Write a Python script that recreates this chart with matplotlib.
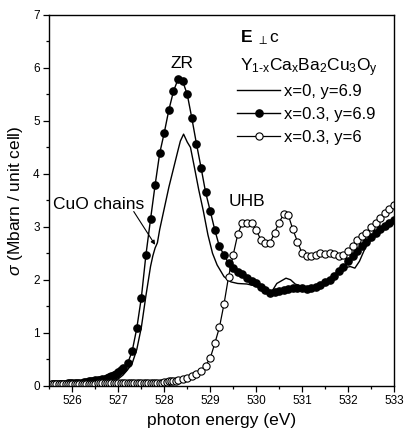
import matplotlib
matplotlib.use("Agg")
import matplotlib.pyplot as plt

plt.rcParams['font.family'] = ['Liberation Sans', 'DejaVu Sans']
plt.rcParams['mathtext.fontset'] = 'custom'
plt.rcParams['mathtext.rm'] = 'Liberation Sans'
plt.rcParams['mathtext.it'] = 'Liberation Sans:italic'
plt.rcParams['mathtext.bf'] = 'Liberation Sans:bold'
plt.rcParams['mathtext.default'] = 'regular'

# x=0, y=6.9 (solid line)
e_x0 = [525.55, 526.0, 526.5, 526.8, 527.0, 527.1, 527.2, 527.3, 527.4, 527.5, 527.6, 527.7,
        527.75, 527.8, 527.85, 527.9, 528.0, 528.1, 528.2, 528.3, 528.35, 528.42, 528.5, 528.57,
        528.65, 528.75, 528.85, 528.95, 529.05, 529.15, 529.3, 529.45, 529.6, 529.8, 530.0,
        530.2, 530.35, 530.45, 530.55, 530.65, 530.75, 530.85, 531.0, 531.2, 531.4, 531.6,
        531.8, 531.95, 532.05, 532.15, 532.25, 532.4, 532.6, 532.8, 533.0]
s_x0 = [0.03, 0.03, 0.04, 0.06, 0.13, 0.2, 0.3, 0.42, 0.68, 1.1, 1.7, 2.25,
        2.45, 2.6, 2.7, 2.95, 3.35, 3.75, 4.1, 4.45, 4.62, 4.75, 4.6, 4.5,
        4.15, 3.7, 3.3, 2.85, 2.5, 2.28, 2.06, 1.96, 1.93, 1.92, 1.88,
        1.81, 1.79, 1.93, 1.98, 2.03, 2.0, 1.92, 1.87, 1.87, 1.92, 2.02,
        2.17, 2.23, 2.25, 2.22, 2.35, 2.65, 2.85, 2.98, 3.1]

# x=0.3, y=6.9 (filled circles)
e_x03 = [525.55, 525.6, 525.65, 525.7, 525.75, 525.8, 525.85, 525.9, 525.95, 526.0,
         526.05, 526.1, 526.15, 526.2, 526.25, 526.3, 526.35, 526.4, 526.45, 526.5,
         526.55, 526.6, 526.65, 526.7, 526.75, 526.8, 526.85, 526.9, 526.95, 527.0, 527.05,
         527.1, 527.2, 527.3, 527.4, 527.5, 527.6, 527.7, 527.8, 527.9, 528.0,
         528.1, 528.2, 528.3, 528.4, 528.5, 528.6, 528.7, 528.8, 528.9, 529.0,
         529.1, 529.2, 529.3, 529.4, 529.5, 529.6, 529.7, 529.8, 529.9, 530.0,
         530.1, 530.2, 530.3, 530.4, 530.5, 530.6, 530.7, 530.8, 530.9, 531.0,
         531.1, 531.2, 531.3, 531.4, 531.5, 531.6, 531.7, 531.8, 531.9, 532.0,
         532.1, 532.2, 532.3, 532.4, 532.5, 532.6, 532.7, 532.8, 532.9, 533.0]
s_x03 = [0.04, 0.04, 0.04, 0.04, 0.04, 0.04, 0.04, 0.05, 0.05, 0.05,
         0.05, 0.05, 0.06, 0.06, 0.07, 0.07, 0.08, 0.08, 0.09, 0.10,
         0.10, 0.11, 0.12, 0.13, 0.14, 0.16, 0.18, 0.20, 0.22, 0.25, 0.29,
         0.33, 0.42, 0.65, 1.08, 1.66, 2.47, 3.14, 3.79, 4.39, 4.78,
         5.21, 5.56, 5.79, 5.75, 5.5, 5.05, 4.57, 4.12, 3.65, 3.3,
         2.94, 2.63, 2.47, 2.31, 2.22, 2.15, 2.1, 2.04, 1.98, 1.93,
         1.86, 1.8, 1.75, 1.77, 1.78, 1.8, 1.83, 1.85, 1.84, 1.84,
         1.83, 1.84, 1.87, 1.9, 1.95, 2.0, 2.08, 2.17, 2.25, 2.35,
         2.45, 2.55, 2.63, 2.72, 2.8, 2.88, 2.95, 3.02, 3.08, 3.13]

# x=0.3, y=6 (open circles)
e_y6 = [525.55, 525.6, 525.65, 525.7, 525.75, 525.8, 525.85, 525.9, 525.95, 526.0,
        526.05, 526.1, 526.15, 526.2, 526.25, 526.3, 526.35, 526.4, 526.45, 526.5,
        526.55, 526.6, 526.65, 526.7, 526.75, 526.8, 526.85, 526.9, 526.95, 527.0,
        527.05, 527.1, 527.15, 527.2, 527.25, 527.3, 527.35, 527.4, 527.45, 527.5,
        527.55, 527.6, 527.65, 527.7, 527.75, 527.8, 527.85, 527.9,
        527.95, 528.0, 528.05, 528.1, 528.15, 528.2, 528.25,
        528.3, 528.4, 528.5, 528.6, 528.7, 528.8, 528.9, 529.0,
        529.1, 529.2, 529.3, 529.4, 529.5, 529.6, 529.7, 529.8, 529.9, 530.0,
        530.1, 530.2, 530.3, 530.4, 530.5, 530.6, 530.7, 530.8, 530.9, 531.0,
        531.1, 531.2, 531.3, 531.4, 531.5, 531.6, 531.7, 531.8, 531.9, 532.0,
        532.1, 532.2, 532.3, 532.4, 532.5, 532.6, 532.7, 532.8, 532.9, 533.0]
s_y6 = [0.04, 0.04, 0.04, 0.04, 0.04, 0.04, 0.04, 0.04, 0.04, 0.04,
        0.04, 0.04, 0.04, 0.04, 0.04, 0.04, 0.04, 0.04, 0.04, 0.04,
        0.05, 0.05, 0.05, 0.05, 0.05, 0.05, 0.05, 0.05, 0.05, 0.05,
        0.05, 0.05, 0.05, 0.05, 0.05, 0.05, 0.05, 0.05, 0.05, 0.05,
        0.06, 0.06, 0.06, 0.06, 0.06, 0.06, 0.06, 0.06,
        0.06, 0.07, 0.07, 0.08, 0.08, 0.09, 0.09,
        0.1, 0.12, 0.15, 0.18, 0.22, 0.28, 0.38, 0.52,
        0.8, 1.1, 1.54, 2.06, 2.47, 2.86, 3.08, 3.08, 3.08, 2.94,
        2.76, 2.69, 2.69, 2.89, 3.08, 3.24, 3.22, 2.95, 2.72, 2.5,
        2.45, 2.44, 2.47, 2.5, 2.48, 2.51, 2.49, 2.45, 2.47, 2.55,
        2.63, 2.75, 2.83, 2.89, 3.0, 3.08, 3.17, 3.27, 3.34, 3.42]

labels = ["x=0, y=6.9", "x=0.3, y=6.9", "x=0.3, y=6"]
x_ticks = [526, 527, 528, 529, 530, 531, 532, 533]
y_ticks = [0, 1, 2, 3, 4, 5, 6, 7]

fig = plt.figure(figsize=(4.04, 4.36), dpi=100)
ax = fig.add_axes([0.1225, 0.1154, 0.8525, 0.8502])

l0, = ax.plot(e_x0, s_x0, color='black', lw=1.0, label=labels[0])
l1, = ax.plot(e_x03, s_x03, color='black', lw=1.0, marker='o', ms=5.2,
              mfc='black', mec='black', label=labels[1])
l2, = ax.plot(e_y6, s_y6, color='black', lw=0.9, marker='o', ms=5.2,
              mfc='white', mec='black', mew=0.8, label=labels[2])

ax.set_xlim(525.5, 533)
ax.set_ylim(0, 7)
ax.set_xticks(x_ticks)
ax.set_yticks(y_ticks)
ax.set_xticks([526.5, 527.5, 528.5, 529.5, 530.5, 531.5, 532.5, 525.5], minor=True)
ax.set_yticks([0.5, 1.5, 2.5, 3.5, 4.5, 5.5, 6.5], minor=True)
ax.tick_params(which='major', direction='out', length=4, width=0.9, labelsize=8.5, pad=3)
ax.tick_params(which='minor', direction='out', length=2.5, width=0.9)
for sp in ax.spines.values():
    sp.set_linewidth(1.0)

ax.set_xlabel("photon energy (eV)", fontsize=12.5, labelpad=4)
ax.set_ylabel(r"$\mathit{\sigma}$ (Mbarn / unit cell)", fontsize=12.5, labelpad=6)

ax.text(528.38, 6.09, "ZR", fontsize=12.5, ha='center', va='center')
ax.text(529.8, 3.47, "UHB", fontsize=12.5, ha='center', va='center')
ax.annotate("CuO chains", xy=(527.8, 2.66), xytext=(526.58, 3.43), fontsize=12.5,
            ha='center', va='center',
            arrowprops=dict(arrowstyle='-|>', color='black', lw=0.8, mutation_scale=6,
                            shrinkA=0, shrinkB=0, patchA=None,
                            relpos=(0.88, 0.0)))

ax.text(0.553, 0.94, r"$\mathbf{E}$ $_{\perp}$c", transform=ax.transAxes, fontsize=12.5,
        ha='left', va='center')
ax.text(0.553, 0.857, r"Y$_{\text{1-x}}$Ca$_x$Ba$_2$Cu$_3$O$_y$", transform=ax.transAxes,
        fontsize=12.5, ha='left', va='center')

ax.legend(handles=[l0, l1, l2], loc='upper left', bbox_to_anchor=(0.544, 0.814),
          frameon=False, fontsize=12, handlelength=2.6, handletextpad=0.2,
          labelspacing=0.48, borderpad=0, borderaxespad=0)

fig.savefig("out.png", dpi=100)
